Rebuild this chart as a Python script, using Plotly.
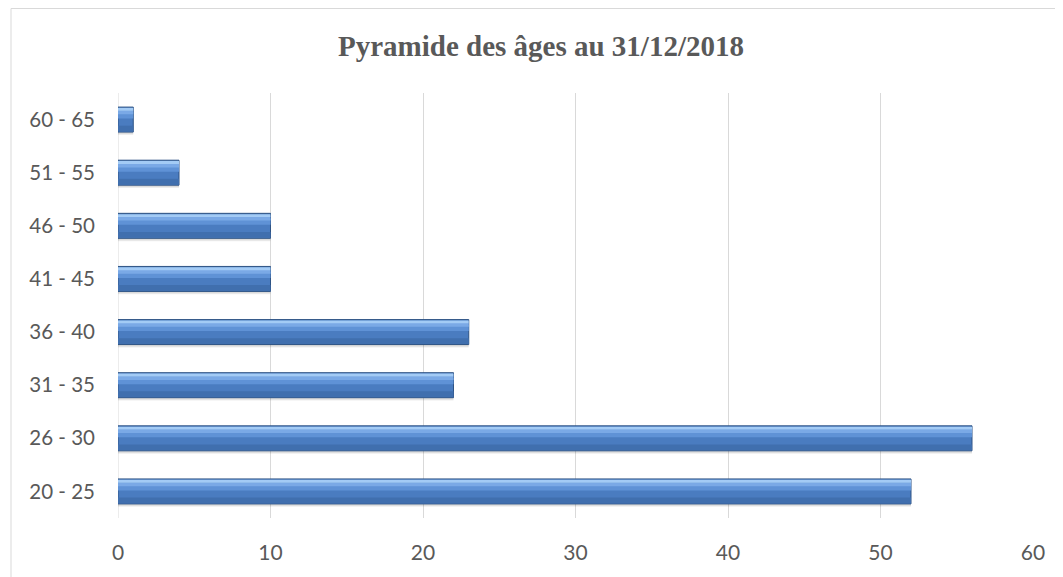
import plotly.graph_objects as go

categories = ["20 - 25", "26 - 30", "31 - 35", "36 - 40", "41 - 45", "46 - 50", "51 - 55", "60 - 65"]
values = [52, 56, 22, 23, 10, 10, 4, 1]
x_ticks = [0, 10, 20, 30, 40, 50, 60]
title_text = "Pyramide des âges au 31/12/2018"

# The page body has an 8px margin; the figure is sized/offset to compensate.
W, H = 1055, 569
L, R, T, B = 110, 30, 85, 59
PW, PH = W - L - R, H - T - B

fig = go.Figure()

def band(width, offset, color, line=None):
    fig.add_trace(go.Bar(
        y=categories, x=values, orientation="h", width=width, offset=offset,
        marker=dict(color=color, line=line or dict(width=0)), hoverinfo="skip"))

# soft shadow
band(0.50, -0.29, "rgba(0,0,0,0.07)")
band(0.48, -0.27, "rgba(0,0,0,0.08)")
# main bar with dark outline
band(0.47, -0.235, "#4a7cc0", dict(color="#2e5384", width=1))
# darker lower band
band(0.11, -0.225, "#406fae")
# lighter middle-upper band
band(0.12, 0.02, "#5f92d6")
band(0.07, 0.10, "#7aa9e6")
# top highlight
band(0.055, 0.165, "#a3cbf5")

fig.update_layout(
    width=W, height=H,
    barmode="overlay",
    showlegend=False,
    paper_bgcolor="white", plot_bgcolor="white",
    margin=dict(l=L, r=R, t=T, b=B, autoexpand=False),
    title=dict(text="<b>" + title_text + "</b>", x=533 / W, xanchor="center",
               y=1 - 38 / H, yanchor="middle",
               font=dict(family="Liberation Serif", size=29, color="#595959")),
    xaxis=dict(range=[0, 60], tickvals=x_ticks, showgrid=True, gridcolor="#d9d9d9", gridwidth=1,
               zeroline=False, showline=False, ticks="", ticklabelstandoff=20,
               tickfont=dict(family="Lato", size=21, color="#595959")),
    yaxis=dict(categoryorder="array", categoryarray=categories, showgrid=False, zeroline=False,
               showline=False, ticks="", ticklabelstandoff=22,
               tickfont=dict(family="Lato", size=20.5, color="#595959")),
    shapes=[
        dict(type="rect", xref="paper", yref="paper",
             x0=(3 - L) / PW, x1=(1054 - L) / PW,
             y0=-(B + 5) / PH, y1=1 + (T - 0.5) / PH,
             line=dict(color="#d9d9d9", width=1), layer="below"),
        dict(type="line", xref="x", yref="paper", x0=0, x1=0, y0=0, y1=1,
             line=dict(color="#d9d9d9", width=1), layer="below"),
    ],
)

fig.write_html("out.html")
